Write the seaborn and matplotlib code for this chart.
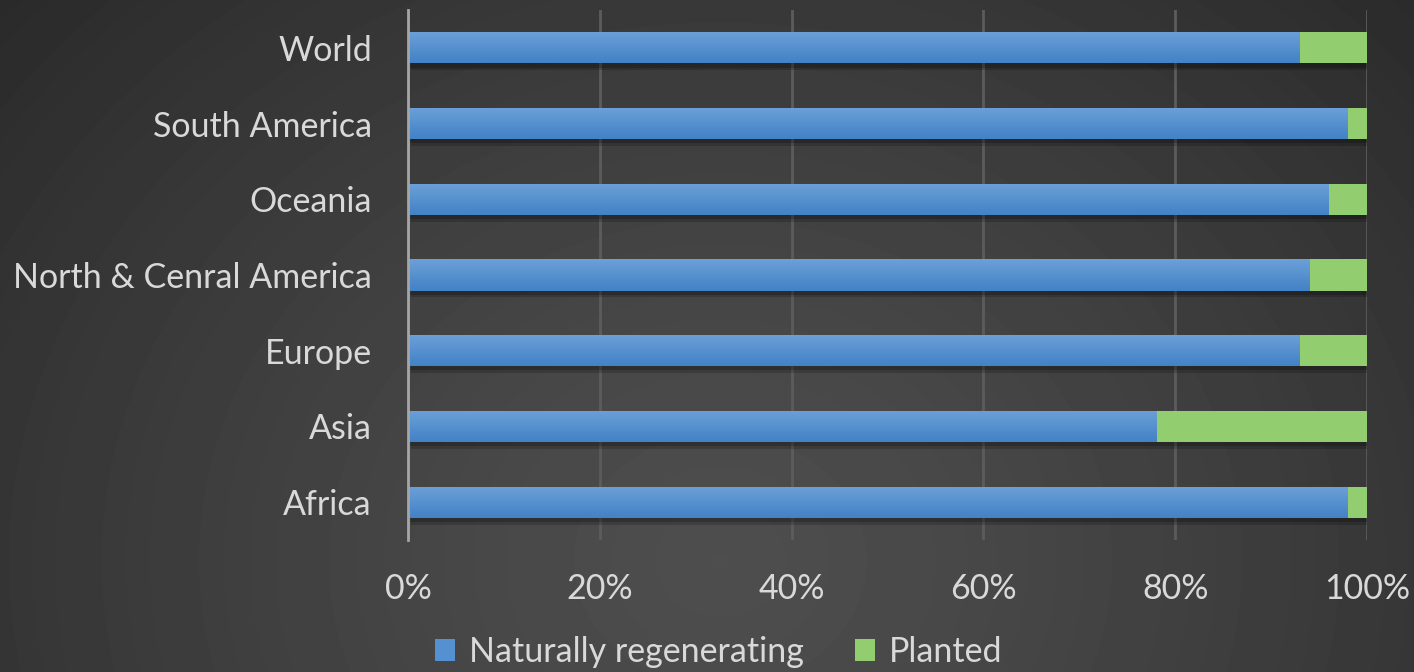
import numpy as np
import pandas as pd
import matplotlib
matplotlib.use("Agg")
import matplotlib.pyplot as plt
import matplotlib.patheffects as pe
from matplotlib.patches import Patch
from matplotlib.colors import LinearSegmentedColormap
import seaborn as sns

categories = ["World", "South America", "Oceania", "North & Cenral America",
              "Europe", "Asia", "Africa"]
naturally_regenerating = [93, 98, 96, 94, 93, 78, 98]
planted = [7, 2, 4, 6, 7, 22, 2]
x_ticks = [0, 20, 40, 60, 80, 100]
x_tick_labels = ["0%", "20%", "40%", "60%", "80%", "100%"]

df = pd.DataFrame({"region": categories,
                   "natural": naturally_regenerating,
                   "planted": planted})
df["total"] = df["natural"] + df["planted"]

sns.set_theme(style="dark")
plt.rcParams["font.family"] = ["Lato", "DejaVu Sans"]

W, H = 1414, 672
fig = plt.figure(figsize=(W / 100, H / 100), dpi=100)

# radial gradient background
bg = fig.add_axes([0, 0, 1, 1], zorder=-10)
yy, xx = np.mgrid[0:H, 0:W]
cx, cy = 720, 560
r = np.sqrt((xx - cx) ** 2 + ((yy - cy) * 1.15) ** 2)
r = r / r.max()
c0, c1 = 0.305, 0.165
val = c0 + (c1 - c0) * np.clip(r, 0, 1) ** 1.3
bg.imshow(val, cmap="gray", vmin=0, vmax=1, aspect="auto", interpolation="bilinear")
bg.set_axis_off()

ax = fig.add_axes([408 / W, 1 - 540 / H, (1367 - 408) / W, 530 / H])
ax.set_facecolor("none")

GREEN = "#92cd70"
BLUE = "#5590d0"
TEXT = "#d9d9d9"

sns.barplot(data=df, x="total", y="region", orient="h", color=GREEN,
            width=0.41, saturation=1, ax=ax, zorder=3, linewidth=0, edgecolor="none")
for p in ax.patches:
    p.set_path_effects([pe.SimplePatchShadow(offset=(2, -5), shadow_rgbFace="black", alpha=0.18),
                        pe.SimplePatchShadow(offset=(1, -3), shadow_rgbFace="black", alpha=0.2),
                        pe.Normal()])
n_green = len(ax.patches)
sns.barplot(data=df, x="natural", y="region", orient="h", color=BLUE,
            width=0.41, saturation=1, ax=ax, zorder=4, linewidth=0, edgecolor="none")

# vertical gradient on blue bars
grad = np.linspace(0, 1, 64).reshape(-1, 1)
cmap = LinearSegmentedColormap.from_list("b", ["#6ca0d8", "#4282c6"])
for p in ax.patches[n_green:]:
    x0, y0 = p.get_x(), p.get_y()
    w, h = p.get_width(), p.get_height()
    im = ax.imshow(grad, cmap=cmap, aspect="auto",
                   extent=(x0, x0 + w, y0 + h, y0), zorder=5, interpolation="bilinear")
    im.set_clip_path(p)

ax.set_xlim(0, 100)
ax.set_ylim(6.5, -0.5)
ax.set_xticks(x_ticks)
ax.set_xticklabels(x_tick_labels)
ax.set_xlabel("")
ax.set_ylabel("")
ax.grid(axis="x", color="#5c5c5c", linewidth=2, zorder=0)
ax.grid(axis="y", visible=False)
for s in ["top", "right", "bottom"]:
    ax.spines[s].set_visible(False)
ax.spines["left"].set_color("#a6a6a6")
ax.spines["left"].set_linewidth(2)
ax.spines["left"].set_zorder(6)
ax.tick_params(axis="both", colors=TEXT, labelsize=24.5, length=0)
ax.tick_params(axis="y", pad=26)
ax.tick_params(axis="x", pad=24)
for t in ax.get_xticklabels() + ax.get_yticklabels():
    t.set_color(TEXT)

handles = [Patch(facecolor="#5590d0", edgecolor="none", label="Naturally regenerating"),
           Patch(facecolor=GREEN, edgecolor="none", label="Planted")]
fig.legend(handles=handles, loc="lower center", bbox_to_anchor=(0.508, -0.04),
           ncol=2, frameon=False, fontsize=24.5, labelcolor=TEXT,
           handlelength=0.6, handleheight=0.6, handletextpad=0.4, columnspacing=1.5)

fig.savefig("out.png", dpi=100)
